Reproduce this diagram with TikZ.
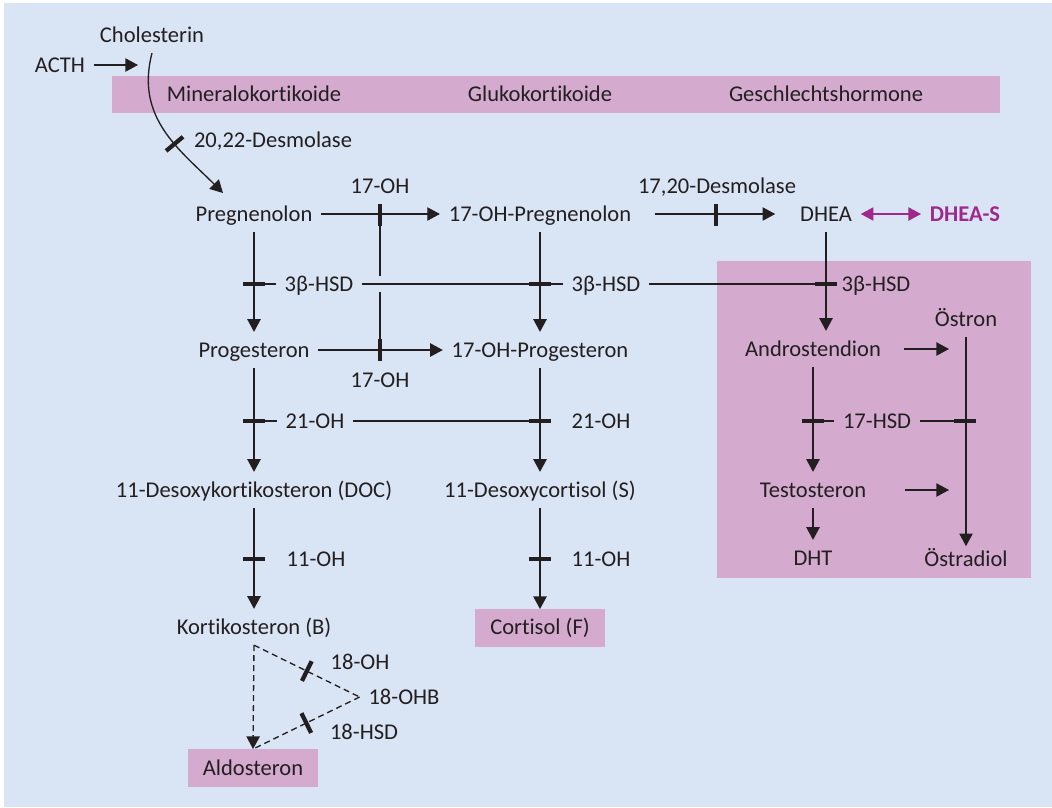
\documentclass[tikz,border=0pt]{standalone}
\usepackage{fontspec}
\setmainfont{Carlito}[Ligatures=NoCommon]
\usetikzlibrary{positioning}
\usetikzlibrary{arrows.meta}
\usetikzlibrary{calc}

\definecolor{bgblue}{RGB}{217,229,244}
\definecolor{rosa}{RGB}{212,170,206}
\definecolor{ink}{RGB}{35,31,32}
\definecolor{lila}{RGB}{160,40,140}

\begin{document}
\begin{tikzpicture}[x=0.75pt, y=-0.75pt,
    every node/.style={font=\fontsize{16.9}{20}\selectfont, text=ink},
    stoff/.style={inner xsep=6.5pt, inner ysep=8pt, text height=10.8pt, text depth=0pt},
    kasten/.style={fill=rosa, minimum width=97.5pt, minimum height=28pt, inner sep=0pt},
    hbar/.style={fill=ink, inner sep=0pt, minimum width=16.5pt, minimum height=3.2pt},
    vbar/.style={fill=ink, inner sep=0pt, minimum width=3.2pt, minimum height=16.5pt},
    sbar/.style={fill=ink, inner sep=0pt, minimum width=3.2pt, minimum height=16.5pt, sloped},
    linie/.style={draw=ink, line width=1pt},
    pfeil/.style={linie, -{Triangle[length=9.5pt,width=10pt]}},
    strich/.style={dash pattern=on 4.5pt off 3pt}
]
    % Background
    \fill[white] (0,0) rectangle (1052,807);
    \fill[bgblue] (4,3) rectangle (1052,807);
    \useasboundingbox (0,0) rectangle (1052,807);
    \fill[rosa] (112,76) rectangle (1000,113);
    \fill[rosa] (717,261) rectangle (1031,578);

    % Head
    \node[stoff] (chol) at (152,35) {Cholesterin};
    \node[stoff] (acth) at (60,65) {ACTH};
    \coordinate (acthE) at (138,65);
    \coordinate (pregIn) at (223,193);
    \node[] (mineral) at (254,94) {Mineralokortikoide};
    \node[] (gluko) at (540,94) {Glukokortikoide};
    \node[] (geschl) at (826,94) {Geschlechtshormone};
    \node[stoff] (desm) at (273,140) {20,22-Desmolase};

    % Pregnenolon row
    \node[stoff] (preg) at (254,214) {Pregnenolon};
    \node[stoff] (ohpreg) at (540,214) {17-OH-Pregnenolon};
    \node[stoff] (dhea) at (826,214) {DHEA};
    \node[stoff, text=lila, font=\fontsize{16.9}{20}\selectfont\bfseries] (dheas) at (965,214) {DHEA-S};
    \node[stoff] (ohA) at (380,186) {17-OH};
    \node[stoff] (desmB) at (717,186) {17,20-Desmolase};
    \node[vbar] (barP) at (380,215) {};
    \node[vbar] (barR) at (716,215) {};

    % 3b-HSD row
    \node[hbar] (barA) at (254,284) {};
    \node[stoff] (hsdA) at (319,284) {3β-HSD};
    \node[hbar] (barB) at (540,284) {};
    \node[stoff] (hsdB) at (606,284) {3β-HSD};
    \node[hbar] (barC) at (826,284) {};
    \node[stoff] (hsdC) at (876,284) {3β-HSD};
    \coordinate (gapT) at (380,276);
    \coordinate (gapB) at (380,292);

    % Progesteron row
    \node[stoff] (prog) at (254,350) {Progesteron};
    \node[stoff] (ohprog) at (540,350) {17-OH-Progesteron};
    \node[stoff] (ohB) at (380,380) {17-OH};
    \node[vbar] (barQ) at (380,350) {};
    \node[stoff] (oestron) at (966,319) {Östron};
    \node[stoff] (andro) at (813,349) {Androstendion};
    \coordinate (androE) at (949,349);

    % 21-OH and 17-HSD row
    \node[hbar] (barD) at (254,421) {};
    \node[stoff] (oh21A) at (315,421) {21-OH};
    \node[hbar] (barE) at (540,421) {};
    \node[stoff] (oh21B) at (601,421) {21-OH};
    \node[hbar] (barF) at (813,421) {};
    \node[stoff] (hsd17) at (877,421) {17-HSD};
    \node[hbar] (barG) at (965,421) {};

    % Desoxy row
    \node[stoff] (doc) at (254,490) {11-Desoxykortikosteron (DOC)};
    \node[stoff] (desS) at (540,490) {11-Desoxycortisol (S)};
    \node[stoff] (testo) at (813,490) {Testosteron};
    \coordinate (testoE) at (949,490);

    % 11-OH row
    \node[hbar] (barH) at (254,559) {};
    \node[stoff] (oh11A) at (316,559) {11-OH};
    \node[hbar] (barI) at (540,559) {};
    \node[stoff] (oh11B) at (601,559) {11-OH};
    \node[stoff] (dht) at (813,558) {DHT};
    \node[stoff] (oestradiol) at (966,559) {Östradiol};

    % Kortikosteron and Cortisol
    \node[stoff] (kort) at (254,627) {Kortikosteron (B)};
    \node[kasten] (cortisol) at (540,628) {Cortisol (F)};
    \node[stoff] (oh18) at (360,662) {18-OH};
    \node[stoff] (ohb) at (404,697) {18-OHB};
    \node[stoff] (hsd18) at (364,732) {18-HSD};
    \node[kasten] (aldo) at (253,768) {Aldosteron};

    % Arrows
    \draw[pfeil] (acth) -- (acthE);
    \draw[pfeil] (chol.south) .. controls (135,118) and (180,150) .. (pregIn) node[sbar, pos=0.6] {};
    \draw[pfeil] (preg) -- (ohpreg);
    \draw[pfeil, shorten <=11pt, shorten >=12pt] (ohpreg) -- (dhea);
    \draw[linie, draw=lila, {Triangle[length=9.5pt,width=10pt]}-{Triangle[length=9.5pt,width=10pt]}] (dhea) -- (dheas);
    \draw[pfeil] (prog) -- (ohprog);
    \draw[pfeil] (preg) -- (prog);
    \draw[pfeil] (ohpreg) -- (ohprog);
    \draw[pfeil] (dhea.south) -- (dhea.south |- andro.north);
    \draw[pfeil] (prog) -- (doc);
    \draw[pfeil] (ohprog) -- (desS);
    \draw[pfeil] (doc) -- (kort);
    \draw[pfeil] (desS) -- (cortisol);
    \draw[pfeil] (andro) -- (testo);
    \draw[pfeil] (testo) -- (dht);
    \draw[pfeil, shorten >=-4pt] (oestron) -- (oestradiol);
    \draw[pfeil, shorten <=10.5pt] (andro) -- (androE);
    \draw[pfeil, shorten <=22.5pt] (testo) -- (testoE);

    % Enzyme lines
    \draw[linie] (barA) -- (hsdA);
    \draw[linie] (hsdA) -- (barB);
    \draw[linie] (barB) -- (hsdB);
    \draw[linie] (hsdB) -- (barC);
    \draw[linie] (barP) -- (gapT);
    \draw[linie] (gapB) -- (barQ);
    \draw[linie] (barD) -- (oh21A);
    \draw[linie] (oh21A) -- (barE);
    \draw[linie] (barF) -- (hsd17);
    \draw[linie] (hsd17) -- (barG);

    % Aldosteron branch
    \draw[linie, strich] (kort.south) -- node[sbar] {} (ohb.west);
    \draw[linie, strich] (ohb.west) -- node[sbar] {} (aldo.north);
    \draw[pfeil, strich] (kort.south) -- (aldo.north);
\end{tikzpicture}
\end{document}
